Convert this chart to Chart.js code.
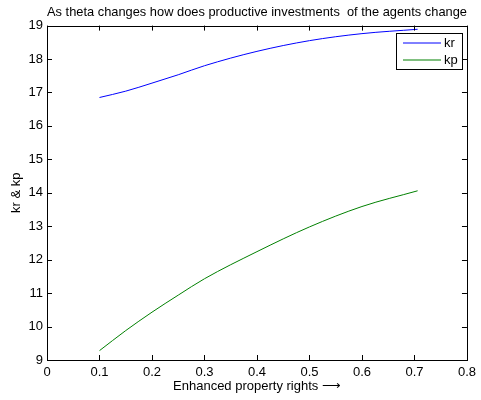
<!DOCTYPE html>
<html>
<head>
<meta charset="utf-8">
<script src="https://cdn.jsdelivr.net/npm/chart.js@4"></script>
<style>
  html, body { margin: 0; padding: 0; background: #fff; }
  #wrap { width: 481px; height: 400px; }
</style>
</head>
<body>
<div id="wrap"><canvas id="thetaChart" width="481" height="400"></canvas></div>
<script>
// values
const theta = [0.1, 0.15, 0.2, 0.25, 0.3, 0.4, 0.5, 0.6, 0.706];
const kr = [16.85, 17.04, 17.28, 17.53, 17.80, 18.23, 18.55, 18.76, 18.89];
const kp = [9.28, 9.88, 10.43, 10.94, 11.43, 12.24, 12.98, 13.59, 14.06];
const xTicks = [0, 0.1, 0.2, 0.3, 0.4, 0.5, 0.6, 0.7, 0.8];
const yTicks = [9, 10, 11, 12, 13, 14, 15, 16, 17, 18, 19];
const seriesNames = ['kr', 'kp'];
const seriesColors = ['#0000ff', '#008000'];

const font = { family: '"Liberation Sans", Arial, sans-serif', size: 13 };

// MATLAB-like box: frame, inward ticks on all sides, legend inside top right
const matlabBox = {
    id: 'matlabBox',
    afterDatasetsDraw(chart) {
        const { ctx, chartArea: a, scales } = chart;
        ctx.save();
        ctx.strokeStyle = '#000';
        ctx.lineWidth = 1;
        ctx.strokeRect(Math.round(a.left) + 0.5, Math.round(a.top) + 0.5,
            Math.round(a.right - a.left), Math.round(a.bottom - a.top));
        ctx.beginPath();
        xTicks.forEach(v => {
            const px = Math.round(scales.x.getPixelForValue(v)) + 0.5;
            ctx.moveTo(px, a.bottom); ctx.lineTo(px, a.bottom - 5);
            ctx.moveTo(px, a.top); ctx.lineTo(px, a.top + 5);
        });
        yTicks.forEach(v => {
            const py = Math.round(scales.y.getPixelForValue(v)) + 0.5;
            ctx.moveTo(a.left, py); ctx.lineTo(a.left + 5, py);
            ctx.moveTo(a.right, py); ctx.lineTo(a.right - 5, py);
        });
        ctx.stroke();

        // legend
        const bx = 396, by = 33, bw = 66, bh = 36;
        ctx.fillStyle = '#fff';
        ctx.fillRect(bx, by, bw, bh);
        ctx.strokeStyle = '#000';
        ctx.strokeRect(bx + 0.5, by + 0.5, bw, bh);
        ctx.font = font.size + 'px ' + font.family;
        ctx.textBaseline = 'middle';
        seriesNames.forEach((name, i) => {
            const y = by + 10 + i * 17;
            ctx.beginPath();
            ctx.strokeStyle = seriesColors[i];
            ctx.moveTo(403, y); ctx.lineTo(441, y);
            ctx.stroke();
            ctx.fillStyle = '#000';
            ctx.fillText(name, 444, y + 0.5);
        });
        ctx.restore();
    }
};

new Chart(document.getElementById('thetaChart'), {
    type: 'line',
    data: {
        datasets: seriesNames.map((name, i) => ({
            label: name,
            data: theta.map((t, j) => ({ x: t, y: (i === 0 ? kr : kp)[j] })),
            borderColor: seriesColors[i],
            borderWidth: 1,
            pointRadius: 0,
            fill: false,
            cubicInterpolationMode: 'monotone'
        }))
    },
    options: {
        responsive: false,
        animation: false,
        layout: { padding: { left: 0, right: 11, top: 0, bottom: 0 } },
        plugins: {
            legend: { display: false },
            tooltip: { enabled: false },
            title: {
                display: true,
                fullSize: false,
                text: 'As theta changes how does productive investments  of the agents change',
                color: '#000',
                font: { ...font, weight: 'normal' },
                padding: { top: 4.5, bottom: 5.5 }
            }
        },
        scales: {
            x: {
                type: 'linear',
                min: 0, max: 0.8,
                afterBuildTicks: s => { s.ticks = xTicks.map(v => ({ value: v })); },
                afterFit: s => { s.height = 40; },
                grid: { display: false, drawTicks: false },
                border: { display: false },
                ticks: { color: '#000', font, padding: 5, maxRotation: 0, autoSkip: false,
                         callback: v => String(v) },
                title: { display: true, text: 'Enhanced property rights \u27F6', color: '#000', font,
                         padding: { top: 2, bottom: 6 } }
            },
            y: {
                min: 9, max: 19,
                afterBuildTicks: s => { s.ticks = yTicks.map(v => ({ value: v })); },
                afterFit: s => { s.width = 47; },
                grid: { display: false, drawTicks: false },
                border: { display: false },
                ticks: { color: '#000', font, padding: 4, autoSkip: false },
                title: { display: true, text: 'kr & kp', color: '#000', font,
                         padding: { top: 9, bottom: 0 } }
            }
        }
    },
    plugins: [matlabBox]
});
</script>
</body>
</html>
